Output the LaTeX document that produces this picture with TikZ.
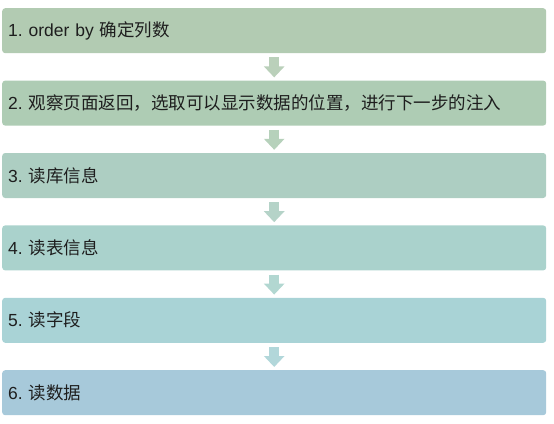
\documentclass[tikz,border=0pt]{standalone}
\usepackage{fontspec}
\setmainfont{Liberation Sans}
\newfontfamily\cjk{Noto Sans CJK SC}
\usetikzlibrary{arrows.meta,positioning}
\frenchspacing

\definecolor{stepA}{RGB}{178,203,178}
\definecolor{stepB}{RGB}{174,204,180}
\definecolor{stepC}{RGB}{173,206,194}
\definecolor{stepD}{RGB}{170,210,204}
\definecolor{stepE}{RGB}{169,211,214}
\definecolor{stepF}{RGB}{167,201,218}
\definecolor{txt}{RGB}{30,30,30}

\begin{document}
\begin{tikzpicture}[
  node distance=27pt,
  >=Latex,
  every node/.style={font=\fontsize{17.5}{20}\selectfont, text=txt},
  stepbox/.style={rounded corners=3pt, minimum width=544pt, minimum height=45pt,
    inner xsep=6pt, text width=532pt, align=left},
  flow/.style={line width=10pt, -{Triangle[length=11pt,width=20pt]},
    shorten <=4pt, shorten >=3pt}
]
\useasboundingbox (0,0) rectangle (554pt,-423pt);

% Etapes
\node[stepbox, fill=stepA, anchor=north west] (s1) at (2pt,-8pt) {1. order by {\cjk 确定列数}};
\node[stepbox, fill=stepB, below=of s1] (s2) {2. {\cjk 观察页面返回，选取可以显示数据的位置，进行下一步的注入}};
\node[stepbox, fill=stepC, below=of s2] (s3) {3. {\cjk 读库信息}};
\node[stepbox, fill=stepD, below=of s3] (s4) {4. {\cjk 读表信息}};
\node[stepbox, fill=stepE, below=of s4] (s5) {5. {\cjk 读字段}};
\node[stepbox, fill=stepF, below=of s5] (s6) {6. {\cjk 读数据}};

% Fleches
\draw[flow, draw=stepA!90!white] (s1) -- (s2);
\draw[flow, draw=stepB!90!white] (s2) -- (s3);
\draw[flow, draw=stepC!90!white] (s3) -- (s4);
\draw[flow, draw=stepD!90!white] (s4) -- (s5);
\draw[flow, draw=stepE!90!white] (s5) -- (s6);

\end{tikzpicture}
\end{document}
